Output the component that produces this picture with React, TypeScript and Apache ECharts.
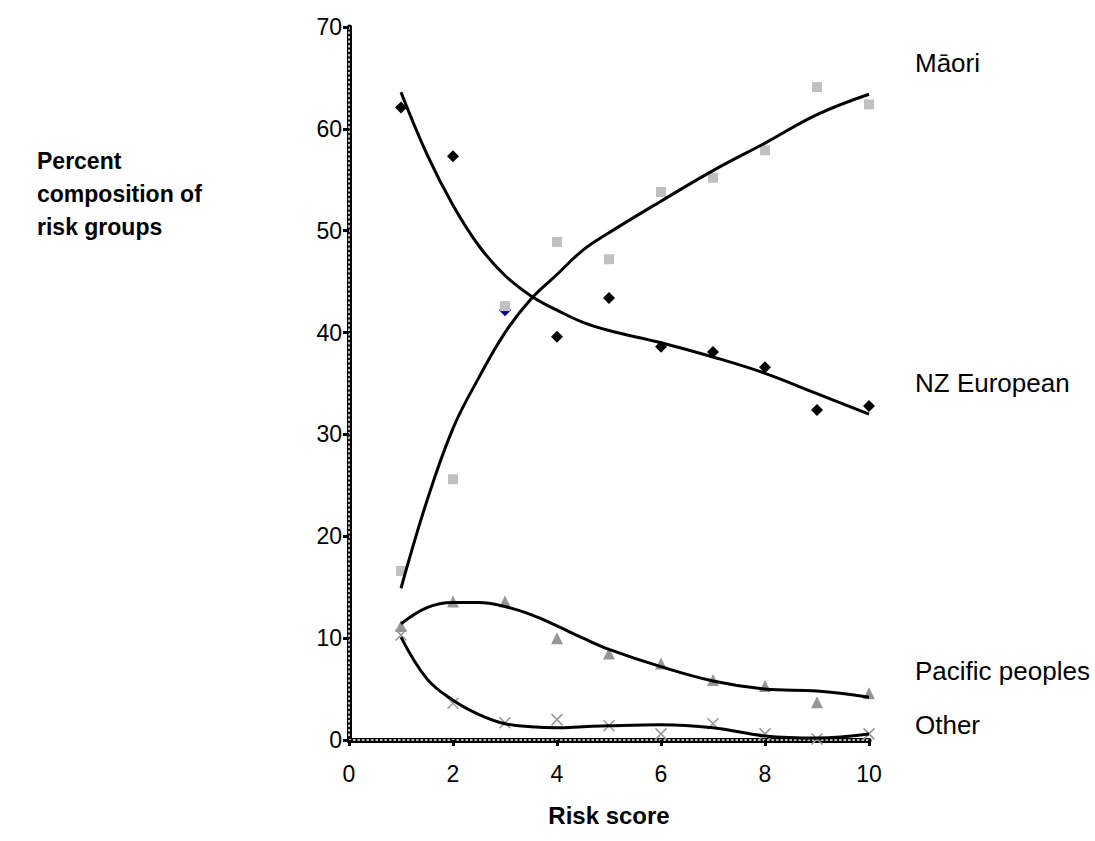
import React, { useEffect, useRef } from "react";
import * as echarts from "echarts";

const riskScores = [1, 2, 3, 4, 5, 6, 7, 8, 9, 10];
const nzEuropean = [62.1, 57.3, 42.2, 39.6, 43.4, 38.6, 38.1, 36.6, 32.4, 32.8];
const maori = [16.6, 25.6, 42.6, 48.9, 47.2, 53.8, 55.2, 57.9, 64.1, 62.4];
const pacific = [11.2, 13.6, 13.6, 10.0, 8.5, 7.5, 5.9, 5.3, 3.7, 4.6];
const other = [10.3, 3.6, 1.7, 2.0, 1.4, 0.6, 1.6, 0.6, 0.1, 0.6];

const trendX = [1, 1.5, 2, 2.5, 3, 3.5, 4, 4.5, 5, 6, 7, 8, 9, 10];
const nzTrend = [63.6, 57.5, 52.5, 48.5, 45.6, 43.6, 42.2, 41.0, 40.2, 39.0, 37.6, 36.0, 34.0, 32.0];
const maoriTrend = [14.9, 23.5, 30.6, 35.6, 40.0, 43.3, 45.7, 48.1, 49.8, 52.9, 55.9, 58.6, 61.4, 63.4];
const pacificTrend = [11.4, 13.0, 13.5, 13.5, 13.1, 12.3, 11.2, 10.0, 8.9, 7.2, 5.8, 5.0, 4.8, 4.2];
const otherTrend = [10.1, 6.0, 3.9, 2.5, 1.6, 1.3, 1.2, 1.3, 1.4, 1.5, 1.2, 0.4, 0.2, 0.6];

const xTicks = [0, 2, 4, 6, 8, 10];
const yTicks = [0, 10, 20, 30, 40, 50, 60, 70];

const seriesLabels = [
  { name: "Māori", top: 50 },
  { name: "NZ European", top: 370 },
  { name: "Pacific peoples", top: 658 },
  { name: "Other", top: 712 },
];

const FONT = "Liberation Sans, Arial, sans-serif";

export default function App() {
  const ref = useRef<HTMLDivElement>(null);
  useEffect(() => {
    if (!ref.current) return;
    const chart = echarts.init(ref.current, undefined, { renderer: "svg" });
    const pts = (ys: number[]) => riskScores.map((x, i) => [x, ys[i]]);
    const tpts = (ys: number[]) => trendX.map((x, i) => [x, ys[i]]);
    const trend = (ys: number[]) => ({
      type: "line",
      data: tpts(ys),
      smooth: 0.4,
      showSymbol: false,
      symbol: "none",
      lineStyle: { color: "#000", width: 3 },
      z: 5,
    });
    const baseX = {
      type: "value",
      min: 0,
      max: 10,
      interval: 2,
      splitLine: { show: false },
    };
    const baseY = {
      type: "value",
      min: 0,
      max: 70,
      interval: 10,
      splitLine: { show: false },
    };
    chart.setOption({
      animation: false,
      backgroundColor: "#fff",
      grid: { left: 349, right: 226, top: 27, bottom: 101 },
      xAxis: [
        {
          ...baseX,
          axisLine: { onZero: false, lineStyle: { color: "#000", width: 5 } },
          axisTick: { show: true, length: 6, lineStyle: { color: "#000", width: 3 } },
          axisLabel: {
            color: "#000",
            fontSize: 23,
            fontFamily: FONT,
            margin: 22,
            formatter: (v: number) => (xTicks.includes(v) ? String(v) : ""),
          },
          name: "Risk score",
          nameLocation: "middle",
          nameGap: 63,
          nameTextStyle: { color: "#000", fontSize: 24, fontWeight: "bold", fontFamily: FONT },
        },
        {
          ...baseX,
          position: "bottom",
          axisLine: { onZero: false, lineStyle: { color: "#fff", width: 1.5, type: [1.5, 3] } },
          axisTick: { show: false },
          axisLabel: { show: false },
        },
      ],
      yAxis: [
        {
          ...baseY,
          axisLine: { onZero: false, lineStyle: { color: "#000", width: 5 } },
          axisTick: { show: true, length: 6, lineStyle: { color: "#000", width: 3 } },
          axisLabel: {
            color: "#000",
            fontSize: 23,
            fontFamily: FONT,
            margin: 7,
            formatter: (v: number) => (yTicks.includes(v) ? String(v) : ""),
          },
        },
        {
          ...baseY,
          position: "left",
          axisLine: { onZero: false, lineStyle: { color: "#fff", width: 1.5, type: [1.5, 3] } },
          axisTick: { show: false },
          axisLabel: { show: false },
        },
      ],
      series: [
        {
          type: "scatter",
          name: "NZ European",
          data: pts(nzEuropean).map((p, i) =>
            i === 2 ? { value: p, itemStyle: { color: "#000080" } } : p
          ),
          symbol: "diamond",
          symbolSize: 12,
          itemStyle: { color: "#000", opacity: 1 },
          z: 3,
        },
        {
          type: "scatter",
          name: "Māori",
          data: pts(maori),
          symbol: "rect",
          symbolSize: 10,
          itemStyle: { color: "#c0c0c0", opacity: 1 },
          z: 4,
        },
        {
          type: "scatter",
          name: "Pacific peoples",
          data: pts(pacific),
          symbol: "triangle",
          symbolSize: 12,
          itemStyle: { color: "#969696", opacity: 1 },
          z: 3,
        },
        {
          type: "scatter",
          name: "Other",
          data: pts(other),
          symbol: "path://M0,0L10,10M10,0L0,10",
          symbolSize: 11,
          itemStyle: { color: "none", borderColor: "#969696", borderWidth: 1.5, opacity: 1 },
          z: 3,
        },
        trend(nzTrend),
        trend(maoriTrend),
        trend(pacificTrend),
        trend(otherTrend),
      ],
      graphic: [
        {
          type: "text",
          left: 37,
          top: 144,
          style: {
            text: "Percent\ncomposition of\nrisk groups",
            fill: "#000",
            font: `bold 23px ${FONT}`,
            lineHeight: 33,
          },
        },
        ...seriesLabels.map((l) => ({
          type: "text",
          left: 915,
          top: l.top,
          style: { text: l.name, fill: "#000", font: `26px ${FONT}` },
        })),
      ],
    });
    return () => chart.dispose();
  }, []);
  return <div ref={ref} style={{ width: 1095, height: 841, position: "absolute", left: 0, top: 0 }} />;
}
